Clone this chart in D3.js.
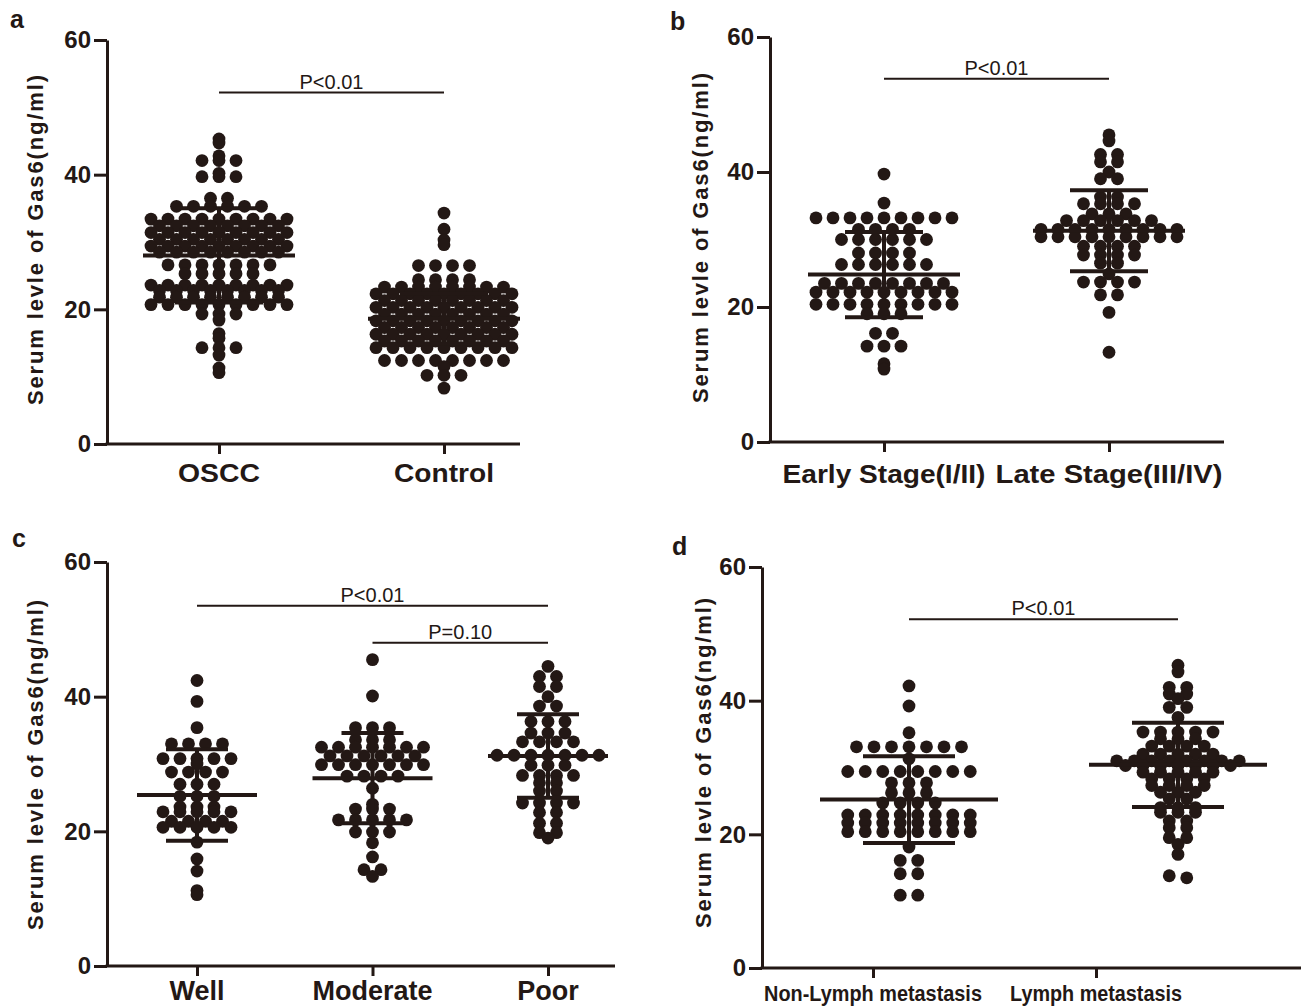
<!DOCTYPE html>
<html><head><meta charset="utf-8">
<script src="https://cdn.jsdelivr.net/npm/d3@7"></script>
<style>
body{margin:0;background:#fff}
svg{display:block}
text{font-family:"Liberation Sans",Arial,sans-serif;fill:#231815}
</style>
</head><body>
<svg id="chart" width="1301" height="1008"></svg>
<script>
// ---------------- data ----------------
const yTicks = [0, 20, 40, 60];
const yTitle = "Serum levle of Gas6(ng/ml)";

// panel a
const catsA = ["OSCC", "Control"];
const oscc = [45.3, 44.7, 42.8, 42.1, 42.1, 42.1, 40.2, 39.7, 39.7, 39.7, 36.5, 36.5,
  35.3, 35.3, 35.3, 35.3, 35.3, 35.3,
  33.4, 33.4, 33.4, 33.4, 33.4, 33.4, 33.4, 33.4, 33.4,
  32.4, 32.4, 32.4, 32.4, 32.4, 32.4, 32.4, 32.4,
  31.4, 31.4, 31.4, 31.4, 31.4, 31.4, 31.4, 31.4, 31.4,
  30.4, 30.4, 30.4, 30.4, 30.4, 30.4, 30.4, 30.4,
  29.4, 29.4, 29.4, 29.4, 29.4, 29.4, 29.4, 29.4, 29.4,
  28.5, 28.5, 28.5, 28.5, 28.5, 28.5, 28.5, 28.5,
  26.6, 26.6, 26.6, 26.6, 26.6, 26.6, 26.6,
  25.3, 25.3, 25.3, 25.3, 25.3,
  23.6, 23.6, 23.6, 23.6, 23.6, 23.6, 23.6, 23.6, 23.6,
  22.8, 22.8, 22.8, 22.8, 22.8, 22.8, 22.8, 22.8,
  21.8, 21.8, 21.8, 21.8, 21.8, 21.8, 21.8, 21.8,
  20.7, 20.7, 20.7, 20.7, 20.7, 20.7, 20.7, 20.7, 20.7,
  19.3, 19.3, 19.3, 18.4, 16.4, 15.7, 14.3, 14.3, 14.3, 13.2, 11.3, 10.6];
const control = [34.3, 31.9, 30.3, 29.6, 26.5, 26.5, 26.5, 26.5, 24.4, 24.4, 24.4, 24.4,
  23.3, 23.3, 23.3, 23.3, 23.3, 23.3, 23.3, 23.3,
  22.3, 22.3, 22.3, 22.3, 22.3, 22.3, 22.3, 22.3, 22.3,
  21.3, 21.3, 21.3, 21.3, 21.3, 21.3, 21.3, 21.3,
  20.3, 20.3, 20.3, 20.3, 20.3, 20.3, 20.3, 20.3, 20.3,
  19.3, 19.3, 19.3, 19.3, 19.3, 19.3, 19.3, 19.3,
  18.3, 18.3, 18.3, 18.3, 18.3, 18.3, 18.3, 18.3, 18.3,
  17.3, 17.3, 17.3, 17.3, 17.3, 17.3, 17.3, 17.3,
  16.3, 16.3, 16.3, 16.3, 16.3, 16.3, 16.3, 16.3, 16.3,
  15.3, 15.3, 15.3, 15.3, 15.3, 15.3, 15.3, 15.3,
  14.3, 14.3, 14.3, 14.3, 14.3, 14.3, 14.3, 14.3, 14.3,
  12.4, 12.4, 12.4, 12.4, 12.4, 12.4, 12.4, 12.4, 11.5, 10.2, 10.2, 10.2, 8.3];
const meanA = [28.0, 18.6];
const sdA = [7.0, 3.7];
const sigTextA = ["P<0.01"];
const sigLevelA = [52.2];

// panel b
const catsB = ["Early Stage(I/II)", "Late Stage(III/IV)"];
const early = [39.7, 35.4,
  33.2, 33.2, 33.2, 33.2, 33.2, 33.2, 33.2, 33.2, 33.2,
  31.5, 31.5, 31.5, 31.5,
  30.0, 30.0, 30.0, 30.0, 30.0, 30.0,
  28.0, 28.0, 28.0, 28.0,
  26.3, 26.3, 26.3, 26.3, 26.3, 26.3,
  23.5, 23.5, 23.5, 23.5, 23.5, 23.5, 23.5, 23.5,
  22.2, 22.2, 22.2, 22.2, 22.2, 22.2, 22.2, 22.2, 22.2,
  20.4, 20.4, 20.4, 20.4, 20.4, 20.4, 20.4, 20.4, 20.4,
  19.0, 19.0, 19.0, 16.1, 16.1, 14.2, 14.2, 14.2, 11.6, 10.8];
const late = [45.5, 44.6, 42.6, 42.6, 41.5, 41.5, 40.0, 39.0, 39.0, 36.3, 36.3,
  35.3, 35.3, 35.3, 35.3, 33.8, 33.8, 33.8,
  32.8, 32.8, 32.8, 32.8, 32.8, 32.8,
  31.5, 31.5, 31.5, 31.5, 31.5, 31.5, 31.5, 31.5, 31.5,
  30.4, 30.4, 30.4, 30.4, 30.4, 30.4, 30.4, 30.4, 30.4,
  29.0, 29.0, 29.0, 29.0, 27.7, 27.7, 27.7, 27.7, 26.5, 26.5, 24.9,
  23.7, 23.7, 23.7, 23.7, 21.8, 21.8, 19.2, 13.3];
const meanB = [24.8, 31.3];
const sdB = [6.3, 6.0];
const sigTextB = ["P<0.01"];
const sigLevelB = [53.8];

// panel c
const catsC = ["Well", "Moderate", "Poor"];
const well = [42.4, 39.3, 35.4, 33.0, 33.0, 33.0, 33.0,
  30.8, 30.8, 30.8, 30.8, 30.8, 30.0,
  28.8, 28.8, 28.8, 28.8, 27.0, 27.0, 27.0, 25.2, 25.2, 25.2,
  23.6, 23.6, 23.6, 22.9, 22.9, 22.9, 22.9, 22.9,
  21.5, 21.5, 21.5, 21.5, 20.6, 20.6, 20.6, 20.6, 20.6,
  18.4, 15.9, 14.1, 11.2, 10.6];
const moderate = [45.5, 40.1, 35.4, 35.4, 35.4, 33.6, 33.6, 33.6,
  32.5, 32.5, 32.5, 32.5, 32.5, 32.5, 32.5,
  31.2, 31.2, 31.2, 31.2, 31.2, 31.2,
  29.9, 29.9, 29.9, 29.9, 29.9, 29.9, 29.9,
  28.2, 28.2, 28.2, 28.2, 26.4, 24.0, 23.3, 23.3, 23.3,
  21.7, 21.7, 21.7, 21.7, 21.7, 19.9, 19.9, 19.9, 18.3, 16.2, 14.3, 14.3, 13.3];
const poor = [44.5, 43.0, 43.0, 41.5, 41.5, 40.0, 38.6, 38.6, 36.3, 36.3, 36.3,
  34.6, 34.6, 34.6, 33.3, 33.3, 33.3, 33.3,
  31.3, 31.3, 31.3, 31.3, 31.3, 31.3, 31.3,
  29.8, 29.8, 29.8, 28.3, 28.3, 28.3, 28.3, 27.2, 27.2, 26.0, 26.0,
  24.2, 24.2, 24.2, 24.2, 22.8, 22.8, 21.2, 21.2, 19.8, 19.8, 19.0];
const meanC = [25.4, 27.9, 31.2];
const sdC = [6.8, 6.7, 6.2];
const sigTextC = ["P<0.01", "P=0.10"];
const sigLevelC = [53.5, 48.0];
const sigPairsC = [[0, 2], [1, 2]];

// panel d
const catsD = ["Non-Lymph metastasis", "Lymph metastasis"];
const nonLymph = [42.2, 39.2, 35.2, 33.1, 33.1, 33.1, 33.1, 33.1, 33.1, 33.1, 31.3,
  29.4, 29.4, 29.4, 29.4, 29.4, 29.4, 29.4, 29.4,
  27.7, 27.7, 27.7, 26.2, 26.2, 26.2, 24.7, 24.7, 24.7, 24.7,
  22.9, 22.9, 22.9, 22.9, 22.9, 22.9, 22.9, 22.9,
  21.7, 21.7, 21.7, 21.7, 21.7, 21.7, 21.7, 21.7,
  20.4, 20.4, 20.4, 20.4, 20.4, 20.4, 20.4, 20.4,
  18.1, 16.1, 16.1, 14.1, 14.1, 10.9, 10.9];
const lymph = [45.3, 44.3, 42.0, 42.0, 41.0, 41.0, 40.3, 39.0, 39.0, 37.5,
  35.3, 35.3, 35.3, 35.3, 35.3, 34.3, 34.3, 34.3, 33.2, 33.2, 33.2, 33.2,
  32.0, 32.0, 32.0, 32.0, 32.0,
  31.0, 31.0, 31.0, 31.0, 31.0, 31.0, 31.0, 31.0,
  30.3, 30.3, 30.3, 30.3, 30.3, 30.3, 30.3,
  29.3, 29.3, 29.3, 29.3, 29.3, 28.3, 28.3, 28.3, 28.3, 27.3, 27.3, 27.3, 27.3,
  26.3, 26.3, 26.3, 25.3, 25.3, 24.0, 24.0, 24.0, 23.3, 23.3, 23.3,
  22.0, 22.0, 21.0, 21.0, 19.5, 19.5, 18.5, 17.0, 13.8, 13.5];
const meanD = [25.2, 30.4];
const sdD = [6.5, 6.3];
const sigTextD = ["P<0.01"];
const sigLevelD = [52.2];

// ---------------- layout ----------------
const ink = "#231815";
const panels = [
  {letter: "a", lx: 10, ly: 28, x0: 107, yTop: 40, yBot: 444, xEnd: 520,
   cats: catsA, groups: [oscc, control], means: meanA, sds: sdA,
   tickRange: [219, 444], groupRange: [219, 444],
   labelSize: 25, labelY: 482, labelLen: [82, 100],
   titleX: 35, titleY: 240, spacing: 17, meanHalf: 76, capHalf: 44,
   sigText: sigTextA, sigLevel: sigLevelA, sigPairs: [[0, 1]]},
  {letter: "b", lx: 670, ly: 30, x0: 770, yTop: 37, yBot: 442, xEnd: 1224,
   cats: catsB, groups: [early, late], means: meanB, sds: sdB,
   tickRange: [884, 1109], groupRange: [884, 1109],
   labelSize: 25, labelY: 483, labelLen: [203, 227],
   titleX: 700, titleY: 238, spacing: 17, meanHalf: 76, capHalf: 39,
   sigText: sigTextB, sigLevel: sigLevelB, sigPairs: [[0, 1]]},
  {letter: "c", lx: 12, ly: 547, x0: 107, yTop: 562, yBot: 966, xEnd: 615,
   cats: catsC, groups: [well, moderate, poor], means: meanC, sds: sdC,
   tickRange: [197, 548], groupRange: [197, 548],
   labelSize: 27, labelY: 1000, labelLen: null,
   titleX: 35, titleY: 765, spacing: 17, meanHalf: 60, capHalf: 31,
   sigText: sigTextC, sigLevel: sigLevelC, sigPairs: sigPairsC},
  {letter: "d", lx: 672, ly: 555, x0: 762, yTop: 567, yBot: 968, xEnd: 1301,
   cats: catsD, groups: [nonLymph, lymph], means: meanD, sds: sdD,
   tickRange: [873, 1096], groupRange: [909, 1178],
   labelSize: 22, labelY: 1001, labelLen: [218, 172],
   titleX: 703, titleY: 763, spacing: 17.5, meanHalf: 89, capHalf: 46,
   sigText: sigTextD, sigLevel: sigLevelD, sigPairs: [[0, 1]]}
];

function rowLayout(values, spacing, tol) {
  const sorted = values.slice().sort((a, b) => b - a);
  const rows = [];
  sorted.forEach(v => {
    const last = rows[rows.length - 1];
    if (last && Math.abs(last.start - v) <= tol) last.vals.push(v);
    else rows.push({start: v, vals: [v]});
  });
  const pts = [];
  rows.forEach(r => {
    const n = r.vals.length;
    r.vals.forEach((v, i) => pts.push({v, dx: (i - (n - 1) / 2) * spacing}));
  });
  return pts;
}

const svg = d3.select("#chart");

panels.forEach(p => {
  const g = svg.append("g");
  const y = d3.scaleLinear().domain([0, 60]).range([p.yBot, p.yTop]);
  const xt = d3.scalePoint().domain(p.cats).range(p.tickRange);
  const xg = d3.scalePoint().domain(p.cats).range(p.groupRange);

  // panel letter
  g.append("text").attr("x", p.lx).attr("y", p.ly)
    .attr("font-size", 25).attr("font-weight", "bold").text(p.letter);

  // y title
  g.append("text")
    .attr("transform", `translate(${p.titleX},${p.titleY}) rotate(-90)`)
    .attr("text-anchor", "middle").attr("dominant-baseline", "central")
    .attr("font-size", 22).attr("font-weight", "bold")
    .attr("textLength", 330).attr("lengthAdjust", "spacing")
    .text(yTitle);

  // dots
  p.groups.forEach((vals, gi) => {
    const cx = xg(p.cats[gi]);
    const pts = rowLayout(vals, p.spacing, 0.35);
    g.append("g").selectAll("circle").data(pts).join("circle")
      .attr("cx", d => cx + d.dx).attr("cy", d => y(d.v))
      .attr("r", 6.4).attr("fill", ink);
  });

  // mean +/- SD
  p.means.forEach((m, gi) => {
    const cx = xg(p.cats[gi]);
    const s = p.sds[gi];
    const eg = g.append("g").attr("stroke", ink).attr("stroke-width", 4).attr("fill", "none");
    eg.append("line").attr("x1", cx - p.meanHalf).attr("x2", cx + p.meanHalf)
      .attr("y1", y(m)).attr("y2", y(m));
    eg.append("line").attr("x1", cx).attr("x2", cx)
      .attr("y1", y(m + s)).attr("y2", y(m - s));
    [m + s, m - s].forEach(v => eg.append("line")
      .attr("x1", cx - p.capHalf).attr("x2", cx + p.capHalf)
      .attr("y1", y(v)).attr("y2", y(v)));
  });

  // y axis
  const ya = g.append("g").attr("transform", `translate(${p.x0},0)`)
    .call(d3.axisLeft(y).tickValues(yTicks).tickSize(13).tickSizeOuter(0).tickPadding(3));
  ya.select(".domain").attr("stroke", ink).attr("stroke-width", 3);
  ya.selectAll(".tick line").attr("stroke", ink).attr("stroke-width", 3);
  ya.selectAll(".tick text").attr("font-size", 24).attr("font-weight", "bold")
    .attr("font-family", '"Liberation Sans",Arial,sans-serif').attr("fill", ink);

  // x axis baseline + ticks
  g.append("line").attr("x1", p.x0 - 1.5).attr("x2", p.xEnd)
    .attr("y1", p.yBot).attr("y2", p.yBot)
    .attr("stroke", ink).attr("stroke-width", 3);
  const xa = g.append("g").attr("transform", `translate(0,${p.yBot})`)
    .call(d3.axisBottom(xt).tickSize(10).tickFormat(""));
  xa.select(".domain").remove();
  xa.selectAll(".tick line").attr("stroke", ink).attr("stroke-width", 3);

  // category labels (horizontally scaled to the reference widths)
  p.cats.forEach((c, i) => {
    const t = g.append("text").attr("x", 0).attr("y", 0)
      .attr("text-anchor", "middle").attr("font-size", p.labelSize)
      .attr("font-weight", "bold").text(c);
    let k = 1;
    if (p.labelLen) k = p.labelLen[i] / t.node().getComputedTextLength();
    t.attr("transform", `translate(${xt(c)},${p.labelY}) scale(${k},1)`);
  });

  // significance bars
  p.sigPairs.forEach((pair, i) => {
    const x1 = xg(p.cats[pair[0]]), x2 = xg(p.cats[pair[1]]);
    const yy = y(p.sigLevel[i]);
    g.append("line").attr("x1", x1).attr("x2", x2).attr("y1", yy).attr("y2", yy)
      .attr("stroke", ink).attr("stroke-width", 2);
    g.append("text").attr("x", (x1 + x2) / 2).attr("y", yy - 4)
      .attr("text-anchor", "middle").attr("font-size", 20).text(p.sigText[i]);
  });
});
</script>
</body></html>
